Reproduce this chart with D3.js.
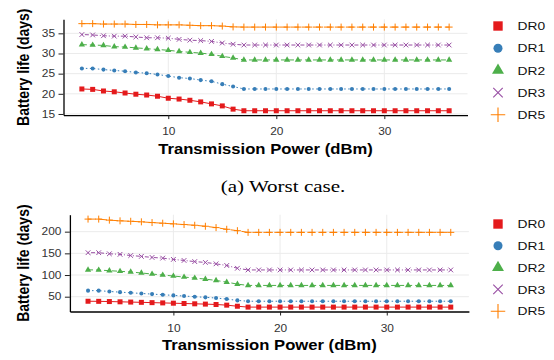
<!DOCTYPE html>
<html>
<head>
<meta charset="utf-8">
<script src="https://cdn.jsdelivr.net/npm/d3@7"></script>
<style>
  body { margin: 0; background: #fff; }
  svg { display: block; font-family: "Liberation Sans", Arial, sans-serif; }
</style>
</head>
<body>
<div id="chart"></div>
<script>
// Transmission power (dBm) on the x axis
const power = [2, 3, 4, 5, 6, 7, 8, 9, 10, 11, 12, 13, 14, 15, 16, 17, 18, 19, 20,
  21, 22, 23, 24, 25, 26, 27, 28, 29, 30, 31, 32, 33, 34, 35, 36];

const seriesNames = ["DR0", "DR1", "DR2", "DR3", "DR5"];

// (a) worst case - battery life in days
const worstDR0 = [21.2, 21.1, 20.7, 20.5, 20.2, 19.9, 19.7, 19.4, 18.9, 18.7, 18.4, 18.0, 17.5, 17.0, 16.2,
  15.8, 15.8, 15.8, 15.8, 15.8, 15.8, 15.8, 15.8, 15.8, 15.8, 15.8, 15.8, 15.8, 15.8, 15.8, 15.8, 15.8, 15.8, 15.8, 15.8];
const worstDR1 = [26.3, 26.3, 26.0, 25.8, 25.6, 25.3, 25.1, 24.8, 24.4, 24.0, 23.8, 23.4, 23.1, 22.4, 21.8,
  21.2, 21.2, 21.2, 21.2, 21.2, 21.2, 21.2, 21.2, 21.2, 21.2, 21.2, 21.2, 21.2, 21.2, 21.2, 21.2, 21.2, 21.2, 21.2, 21.2];
const worstDR2 = [32.2, 32.1, 32.0, 31.7, 31.6, 31.4, 31.2, 31.0, 30.8, 30.5, 30.3, 30.1, 29.8, 29.3, 28.9,
  28.4, 28.4, 28.4, 28.4, 28.4, 28.4, 28.4, 28.4, 28.4, 28.4, 28.4, 28.4, 28.4, 28.4, 28.4, 28.4, 28.4, 28.4, 28.4, 28.4];
const worstDR3 = [34.7, 34.6, 34.4, 34.3, 34.3, 34.1, 33.9, 33.9, 33.8, 33.5, 33.3, 33.2, 33.0, 32.6, 32.3,
  32.1, 32.1, 32.1, 32.1, 32.1, 32.1, 32.1, 32.1, 32.1, 32.1, 32.1, 32.1, 32.1, 32.1, 32.1, 32.1, 32.1, 32.1, 32.1, 32.1];
const worstDR5 = [37.4, 37.4, 37.3, 37.3, 37.3, 37.2, 37.2, 37.1, 37.1, 37.1, 37.0, 36.9, 36.9, 36.8, 36.6,
  36.55, 36.55, 36.55, 36.55, 36.55, 36.55, 36.55, 36.55, 36.55, 36.55, 36.55, 36.55, 36.55, 36.55, 36.55, 36.55, 36.55, 36.55, 36.55, 36.55];

// (b) second case - battery life in days
const bestDR0 = [39.5, 39.3, 38.8, 38.2, 37.6, 37.0, 36.3, 35.7, 35.0, 34.3, 33.6, 32.9, 32.0, 30.5, 28.0,
  26, 26, 26, 26, 26, 26, 26, 26, 26, 26, 26, 26, 26, 26, 26, 26, 26, 26, 26, 26];
const bestDR1 = [64, 64, 62, 60.5, 59, 57.5, 56, 54.5, 53, 51.5, 50, 48.5, 47, 44.5, 41.5,
  39.5, 39.5, 39.5, 39.5, 39.5, 39.5, 39.5, 39.5, 39.5, 39.5, 39.5, 39.5, 39.5, 39.5, 39.5, 39.5, 39.5, 39.5, 39.5, 39.5];
const bestDR2 = [112, 111.5, 110, 108.6, 107, 104.7, 102.3, 100, 97.7, 95.3, 93, 90.6, 87.5, 83.6, 79,
  76, 76, 76, 76, 76, 76, 76, 76, 76, 76, 76, 76, 76, 76, 76, 76, 76, 76, 76, 76];
const bestDR3 = [151.5, 151.5, 149, 147.7, 145, 143, 140.6, 139, 136, 133.6, 131, 129, 125.8, 122, 115.6,
  111.7, 111.7, 111.7, 111.7, 111.7, 111.7, 111.7, 111.7, 111.7, 111.7, 111.7, 111.7, 111.7, 111.7, 111.7, 111.7, 111.7, 111.7, 111.7, 111.7];
const bestDR5 = [229, 229, 226.6, 225, 224, 222.7, 221, 219.5, 218, 216.4, 214.8, 212.5, 209.4, 205.5, 202.3,
  198.4, 198.4, 198.4, 198.4, 198.4, 198.4, 198.4, 198.4, 198.4, 198.4, 198.4, 198.4, 198.4, 198.4, 198.4, 198.4, 198.4, 198.4, 198.4, 198.4];

const xTicks = [10, 20, 30];
const worstYTicks = [15, 20, 25, 30, 35];
const bestYTicks = [50, 100, 150, 200];

// Styling for each series (Set1 colours)
const colors = ["#E41A1C", "#377EB8", "#4DAF4A", "#984EA3", "#FF7F00"];
const dashes = [null, "1.5,2.5", "5,3", "1,2,4,2", "8,3"];

// the original picture is stretched horizontally, text follows it
const sx = 1.19;

// stroke symbols for x and plus
const symX = {
  draw(ctx, size) {
    const r = Math.sqrt(size) / 2;
    ctx.moveTo(-r, -r); ctx.lineTo(r, r);
    ctx.moveTo(-r, r); ctx.lineTo(r, -r);
  }
};
const symPlus = {
  draw(ctx, size) {
    const r = Math.sqrt(size) / 2;
    ctx.moveTo(-r, 0); ctx.lineTo(r, 0);
    ctx.moveTo(0, -r); ctx.lineTo(0, r);
  }
};
const shapes = [
  {type: d3.symbolSquare, size: 25, legend: 88, filled: true},
  {type: d3.symbolCircle, size: 13, legend: 64, filled: true},
  {type: d3.symbolTriangle, size: 17, legend: 62, filled: true},
  {type: symX, size: 22, legend: 90, filled: false},
  {type: symPlus, size: 49, legend: 210, filled: false}
];

const svg = d3.select("#chart")
  .append("svg")
  .attr("width", 554)
  .attr("height", 360);

function drawPanel(opt) {
  const series = opt.values.map((vals, i) => ({
    name: seriesNames[i],
    values: vals.map((v, j) => ({x: power[j], y: v}))
  }));

  // ggplot-like 5% expansion
  const xExt = d3.extent(power);
  const xPad = (xExt[1] - xExt[0]) * 0.05;
  const yExt = [d3.min(opt.values, s => d3.min(s)), d3.max(opt.values, s => d3.max(s))];
  const yPad = (yExt[1] - yExt[0]) * 0.05;

  const xScale = d3.scaleLinear()
    .domain([xExt[0] - xPad, xExt[1] + xPad])
    .range([opt.left, opt.right]);
  const yScale = d3.scaleLinear()
    .domain([yExt[0] - yPad, yExt[1] + yPad])
    .range([opt.bottom, opt.top]);

  const g = svg.append("g");

  // grid lines
  g.append("g")
    .selectAll("line.h")
    .data(opt.yTicks)
    .join("line")
    .attr("x1", opt.left).attr("x2", opt.right)
    .attr("y1", d => yScale(d)).attr("y2", d => yScale(d))
    .attr("stroke", "#ebebeb").attr("stroke-width", 1);
  g.append("g")
    .selectAll("line.v")
    .data(xTicks)
    .join("line")
    .attr("x1", d => xScale(d)).attr("x2", d => xScale(d))
    .attr("y1", opt.top).attr("y2", opt.bottom)
    .attr("stroke", "#ebebeb").attr("stroke-width", 1);

  // lines
  const line = d3.line()
    .x(d => xScale(d.x))
    .y(d => yScale(d.y));

  series.forEach((s, i) => {
    g.append("path")
      .datum(s.values)
      .attr("fill", "none")
      .attr("stroke", colors[i])
      .attr("stroke-width", 1)
      .attr("stroke-dasharray", dashes[i])
      .attr("d", line);
  });

  // points
  series.forEach((s, i) => {
    const sh = shapes[i];
    g.append("g")
      .selectAll("path")
      .data(s.values)
      .join("path")
      .attr("transform", d => `translate(${xScale(d.x)},${yScale(d.y)})`)
      .attr("d", d3.symbol().type(sh.type).size(sh.size))
      .attr("fill", sh.filled ? colors[i] : "none")
      .attr("stroke", sh.filled ? "none" : colors[i])
      .attr("stroke-width", 1);
  });

  // axes
  const xAxis = d3.axisBottom(xScale)
    .tickValues(xTicks)
    .tickSize(4)
    .tickPadding(opt.xPadding)
    .tickSizeOuter(0);
  const yAxis = d3.axisLeft(yScale)
    .tickValues(opt.yTicks)
    .tickSize(5)
    .tickSizeOuter(0);

  const gx = g.append("g")
    .attr("transform", `translate(0,${opt.bottom})`)
    .call(xAxis);
  const gy = g.append("g")
    .attr("transform", `translate(${opt.left},0)`)
    .call(yAxis);

  [gx, gy].forEach(a => {
    a.select(".domain").attr("stroke", "#000").attr("stroke-width", 1.3);
    a.selectAll(".tick line").attr("stroke", "#222").attr("stroke-width", 1);
    a.selectAll(".tick text")
      .attr("fill", "#333")
      .style("font-size", "10px")
      .style("font-family", "'Liberation Sans', Arial, sans-serif");
  });
  gx.selectAll(".tick text").attr("transform", `scale(${sx},1)`);
  gy.selectAll(".tick text")
    .attr("x", -8.5 / sx)
    .attr("transform", `scale(${sx},1)`);

  // axis titles
  g.append("text")
    .attr("transform", `translate(${(opt.left + opt.right) / 2},${opt.xTitleY}) scale(${sx},1)`)
    .attr("text-anchor", "middle")
    .style("font-size", "14px")
    .style("font-weight", "bold")
    .text("Transmission Power (dBm)");

  g.append("text")
    .attr("transform", `translate(23,${(opt.top + opt.bottom) / 2}) scale(${sx},1) rotate(-90)`)
    .attr("text-anchor", "middle")
    .attr("dy", "0.35em")
    .style("font-size", "14px")
    .style("font-weight", "bold")
    .text("Battery life (days)");

  // legend
  const legend = g.append("g")
    .selectAll("g")
    .data(seriesNames)
    .join("g")
    .attr("transform", (d, i) => `translate(498,${opt.legendY + i * opt.legendStep})`);

  legend.append("path")
    .attr("d", (d, i) => d3.symbol().type(shapes[i].type).size(shapes[i].legend)())
    .attr("fill", (d, i) => shapes[i].filled ? colors[i] : "none")
    .attr("stroke", (d, i) => shapes[i].filled ? "none" : colors[i])
    .attr("stroke-width", 1.1);

  legend.append("text")
    .attr("transform", `translate(19.5,0) scale(${sx},1)`)
    .attr("dy", "0.36em")
    .attr("fill", "#111")
    .style("font-size", "11.6px")
    .text(d => d);
}

drawPanel({
  values: [worstDR0, worstDR1, worstDR2, worstDR3, worstDR5],
  yTicks: worstYTicks,
  left: 63.5, right: 467.5, top: 19.3, bottom: 115.1,
  xPadding: 8.5, xTitleY: 153.5,
  legendY: 26, legendStep: 22.2
});

drawPanel({
  values: [bestDR0, bestDR1, bestDR2, bestDR3, bestDR5],
  yTicks: bestYTicks,
  left: 69.9, right: 468.9, top: 214.7, bottom: 311.5,
  xPadding: 9.5, xTitleY: 350,
  legendY: 224, legendStep: 21.8
});

// sub-caption
svg.append("text")
  .attr("transform", `translate(283,192) scale(${sx},1)`)
  .attr("text-anchor", "middle")
  .style("font-family", "'Liberation Serif', 'Times New Roman', serif")
  .style("font-size", "17.7px")
  .text("(a) Worst case.");
</script>
</body>
</html>
